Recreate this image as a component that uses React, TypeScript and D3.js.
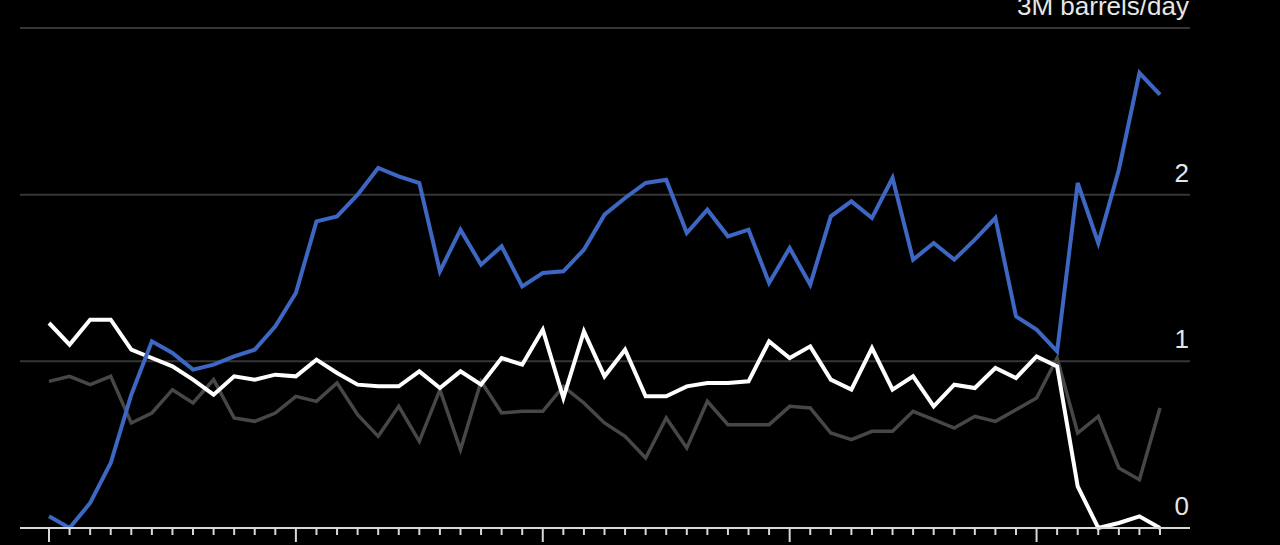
import React from "react";
import * as d3 from "d3";

// Monthly observations (index 0..54)
const months: number[] = Array.from({ length: 55 }, (_, i) => i);

const blueSeries: number[] = [
  0.07, 0.0, 0.15, 0.39, 0.8, 1.12, 1.05, 0.95, 0.98, 1.03, 1.07,
  1.21, 1.41, 1.84, 1.87, 2.0, 2.16, 2.11, 2.07, 1.54, 1.79, 1.58,
  1.69, 1.45, 1.53, 1.54, 1.67, 1.88, 1.98, 2.07, 2.09, 1.77, 1.91,
  1.75, 1.79, 1.47, 1.68, 1.46, 1.87, 1.96, 1.86, 2.1, 1.61, 1.71,
  1.61, 1.73, 1.86, 1.27, 1.19, 1.06, 2.07, 1.71, 2.15, 2.73, 2.6,
];

const whiteSeries: number[] = [
  1.23, 1.1, 1.25, 1.25, 1.07, 1.02, 0.97, 0.89, 0.8, 0.91, 0.89,
  0.92, 0.91, 1.01, 0.93, 0.86, 0.85, 0.85, 0.94, 0.84, 0.94, 0.86,
  1.02, 0.98, 1.19, 0.78, 1.18, 0.91, 1.07, 0.79, 0.79, 0.85, 0.87,
  0.87, 0.88, 1.12, 1.02, 1.09, 0.89, 0.83, 1.08, 0.83, 0.91, 0.73,
  0.86, 0.84, 0.96, 0.9, 1.03, 0.97, 0.25, 0.0, 0.03, 0.07, 0.0,
];

const graySeries: number[] = [
  0.88, 0.91, 0.86, 0.91, 0.63, 0.69, 0.83, 0.75, 0.89, 0.66, 0.64,
  0.69, 0.79, 0.76, 0.87, 0.68, 0.55, 0.73, 0.52, 0.83, 0.47, 0.88,
  0.69, 0.7, 0.7, 0.85, 0.75, 0.63, 0.55, 0.42, 0.66, 0.48, 0.76,
  0.62, 0.62, 0.62, 0.73, 0.72, 0.57, 0.53, 0.58, 0.58, 0.7, 0.65,
  0.6, 0.67, 0.64, 0.71, 0.78, 1.02, 0.57, 0.67, 0.36, 0.29, 0.72,
];

const yTicks: number[] = [0, 1, 2, 3];
const yTickLabels: string[] = ["0", "1", "2", "3M barrels/day"];
const majorEvery = 12;

const W = 1280;
const H = 545;
const FONT = "'Helvetica Neue', Helvetica, 'Liberation Sans', Arial, sans-serif";

export default function App() {
  const x = d3.scaleLinear().domain([0, months.length - 1]).range([49, 1160]);
  const y = d3.scaleLinear().domain([0, 3]).range([528, 28]);
  const gridLeft = 20;
  const gridRight = 1190;

  const line = d3
    .line<number>()
    .x((_, i) => x(months[i]))
    .y((d) => y(d));

  const series = [
    { key: "gray", values: graySeries, color: "#474747", width: 3.5 },
    { key: "white", values: whiteSeries, color: "#ffffff", width: 4 },
    { key: "blue", values: blueSeries, color: "#3d67c2", width: 4 },
  ];

  return (
    <div style={{ position: "fixed", left: 0, top: 0, width: W, height: H, background: "#000" }}>
      <svg width={W} height={H} style={{ display: "block" }}>
        <rect x={0} y={0} width={W} height={H} fill="#000" />
        {yTicks.filter((t) => t > 0).map((t) => (
          <line key={t} x1={gridLeft} x2={gridRight} y1={y(t)} y2={y(t)} stroke="#363636" strokeWidth={2} />
        ))}
        {yTicks.map((t, i) => (
          <text
            key={"l" + t}
            x={gridRight - 1}
            y={y(t) - 13}
            textAnchor="end"
            fill="#e6e6e6"
            fontFamily={FONT}
            fontSize={26}
          >
            {yTickLabels[i]}
          </text>
        ))}
        {series.map((s) => (
          <path
            key={s.key}
            d={line(s.values) || ""}
            fill="none"
            stroke={s.color}
            strokeWidth={s.width}
            strokeLinejoin="miter"
            strokeLinecap="butt"
          />
        ))}
        <line x1={gridLeft} x2={gridRight} y1={y(0)} y2={y(0)} stroke="#d8d8d8" strokeWidth={2} />
        {months.map((m) => (
          <line
            key={"t" + m}
            x1={x(m)}
            x2={x(m)}
            y1={y(0)}
            y2={y(0) + (m % majorEvery === 0 ? 14 : 7)}
            stroke="#d8d8d8"
            strokeWidth={2}
          />
        ))}
      </svg>
    </div>
  );
}
